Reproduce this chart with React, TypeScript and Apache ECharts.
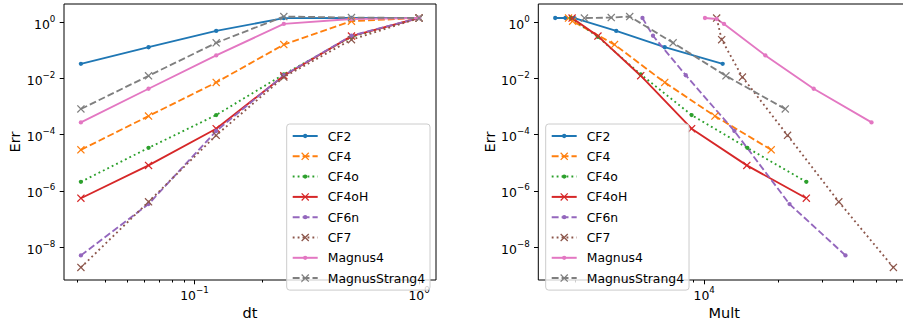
import React, { useEffect, useRef } from "react";
import * as echarts from "echarts";

// ---- data ----
const names = ["CF2", "CF4", "CF4o", "CF4oH", "CF6n", "CF7", "Magnus4", "MagnusStrang4"];
const dt = [0.03125, 0.0625, 0.125, 0.25, 0.5, 1];

const errCF2 = [0.033, 0.129, 0.49, 1.39, 1.41, 1.41];
const errCF4 = [2.9e-5, 4.6e-4, 7.2e-3, 0.16, 1.09, 1.41];
const errCF4o = [2.1e-6, 3.4e-5, 5.0e-4, 0.014, 0.3, 1.41];
const errCF4oH = [5.5e-7, 8.1e-6, 1.63e-4, 0.0125, 0.32, 1.41];
const errCF6n = [5.1e-9, 3.4e-7, 1.35e-4, 0.013, 0.33, 1.41];
const errCF7 = [1.9e-9, 4.1e-7, 9.5e-5, 0.0112, 0.24, 1.41];
const errMagnus4 = [2.74e-4, 4.3e-3, 0.066, 0.87, 1.3, 1.41];
const errMagnusStrang4 = [8.2e-4, 0.0124, 0.185, 1.59, 1.46, 1.41];

const multCF2 = [11880, 6920, 4400, 2980, 2740, 2490];
const multCF4 = [18680, 11050, 6920, 4330, 2930, 2820];
const multCF4o = [25930, 14950, 8890, 5530, 3710, 2890];
const multCF4oH = [25930, 14880, 8890, 5530, 3710, 2915];
const multCF6n = [37360, 22170, 13250, 8420, 6200, 5620];
const multCF7 = [58420, 35100, 21760, 14280, 11770, 11230];
const multMagnus4 = [47640, 27770, 17690, 12030, 11230, 10070];
const multMagnusStrang4 = [21300, 12250, 7480, 4990, 4200, 3270];

const yMajorTicks = [1e-8, 1e-6, 1e-4, 1e-2, 1];
const dtMajorTicks = [0.1, 1];
const dtMinorTicks = [0.02, 0.03, 0.04, 0.05, 0.06, 0.07, 0.08, 0.09, 0.2, 0.3, 0.4, 0.5, 0.6, 0.7, 0.8, 0.9];
const multMajorTicks = [1e4];
const multMinorTicks = [2000, 3000, 4000, 5000, 6000, 7000, 8000, 9000, 20000, 30000, 40000, 50000, 60000, 70000, 80000, 90000];

const errs = [errCF2, errCF4, errCF4o, errCF4oH, errCF6n, errCF7, errMagnus4, errMagnusStrang4];
const mults = [multCF2, multCF4, multCF4o, multCF4oH, multCF6n, multCF7, multMagnus4, multMagnusStrang4];

// ---- styles ----
const FONT = "DejaVu Sans";
const COLORS = ["#1f77b4", "#ff7f0e", "#2ca02c", "#d62728", "#9467bd", "#8c564b", "#e377c2", "#7f7f7f"];
const DASHED = [6.9, 3.0];
const DOTTED = [1.86, 3.07];
const LINE_TYPES: any[] = ["solid", DASHED, DOTTED, "solid", DASHED, DOTTED, "solid", DASHED];
const X_SYM = "path://M0,1.1L1.1,0L5,3.9L8.9,0L10,1.1L6.1,5L10,8.9L8.9,10L5,6.1L1.1,10L0,8.9L3.9,5Z";
const DOT_SYM = "path://M0,0M10,10M2.3,5A2.7,2.7,0,1,1,7.7,5A2.7,2.7,0,1,1,2.3,5Z";
const MARKERS = [DOT_SYM, X_SYM, DOT_SYM, X_SYM, DOT_SYM, X_SYM, DOT_SYM, X_SYM];

const TICK_FONT = 12.4;
const LABEL_FONT = 14.5;

const fmtPow = (v: number) => {
  const e = Math.round(Math.log10(v));
  const s = (e < 0 ? "\u2212" : "") + String(Math.abs(e));
  return "{b|10}{s|" + s + "}";
};
const powRich = {
  b: { fontFamily: FONT, fontSize: TICK_FONT, lineHeight: 16, verticalAlign: "bottom", color: "#000" },
  s: { fontFamily: FONT, fontSize: 8.7, lineHeight: 9.6, verticalAlign: "top", color: "#000" },
};

function logExtent(vals: number[]): [number, number] {
  const l = vals.map((v) => Math.log10(v));
  const lo = Math.min(...l);
  const hi = Math.max(...l);
  const m = (hi - lo) * 0.05;
  return [Math.pow(10, lo - m), Math.pow(10, hi + m)];
}

export default function App() {
  const ref = useRef<HTMLDivElement>(null);
  useEffect(() => {
    if (!ref.current) return;
    const chart = echarts.init(ref.current, undefined, { renderer: "svg" });

    const [yMin, yMax] = logExtent(errs.flat());
    const [dMin, dMax] = logExtent(dt);
    const [mMin, mMax] = logExtent(mults.flat());
    const inRange = (arr: number[], lo: number, hi: number) => arr.filter((v) => v >= lo && v <= hi);

    const majorX = (gridIndex: number, min: number, max: number, ticks: number[], name: string, nameGap: number) => ({
      type: "log",
      gridIndex,
      min,
      max,
      position: "bottom",
      axisLine: { show: false },
      splitLine: { show: false },
      minorTick: { show: false },
      axisTick: { show: true, length: 4.3, lineStyle: { color: "#000", width: 1 }, customValues: inRange(ticks, min, max) },
      axisLabel: { customValues: inRange(ticks, min, max), formatter: fmtPow, rich: powRich, fontFamily: FONT, fontSize: TICK_FONT, color: "#000", margin: 5 },
      name,
      nameLocation: "middle",
      nameGap,
      nameTextStyle: { fontFamily: FONT, fontSize: LABEL_FONT, color: "#000" },
    });
    const minorX = (gridIndex: number, min: number, max: number, ticks: number[]) => ({
      type: "log",
      gridIndex,
      min,
      max,
      position: "bottom",
      axisLine: { show: false },
      splitLine: { show: false },
      minorTick: { show: false },
      axisTick: { show: true, length: 2.5, lineStyle: { color: "#000", width: 1 }, customValues: inRange(ticks, min, max) },
      axisLabel: { show: false },
    });
    const yAx = (gridIndex: number) => ({
      type: "log",
      gridIndex,
      min: yMin,
      max: yMax,
      axisLine: { show: false },
      splitLine: { show: false },
      minorTick: { show: false },
      axisTick: { show: true, length: 4.3, lineStyle: { color: "#000", width: 1 }, customValues: yMajorTicks },
      axisLabel: { customValues: yMajorTicks, formatter: fmtPow, rich: powRich, fontFamily: FONT, fontSize: TICK_FONT, color: "#000", margin: 8.6 },
      name: "Err",
      nameLocation: "middle",
      nameGap: 40,
      nameRotate: 90,
      nameTextStyle: { fontFamily: FONT, fontSize: LABEL_FONT, color: "#000" },
    });

    const legend = (left: number) => ({
      orient: "vertical",
      left,
      top: 124,
      itemWidth: 25,
      itemHeight: 10,
      itemGap: 8.3,
      padding: [6, 5, 6, 5],
      backgroundColor: "rgba(255,255,255,0.8)",
      borderColor: "#cccccc",
      borderWidth: 1,
      borderRadius: 3,
      selectedMode: false,
      textStyle: { fontFamily: FONT, fontSize: TICK_FONT, color: "#000", padding: [0, 0, 0, 5] },
      data: names,
    });

    const series: any[] = [];
    const makeSeries = (i: number, xAxisIndex: number, yAxisIndex: number, xs: number[]) => ({
      type: "line",
      name: names[i],
      symbol: MARKERS[i],
      symbolSize: 8,
      showSymbol: true,
      silent: true,
      lineStyle: { color: COLORS[i], width: 1.85, type: LINE_TYPES[i] },
      itemStyle: { color: COLORS[i] },
      xAxisIndex,
      yAxisIndex,
      data: xs.map((x, k) => [x, errs[i][k]]),
    });
    names.forEach((_, i) => series.push(makeSeries(i, 0, 0, dt)));
    names.forEach((_, i) => series.push(makeSeries(i, 2, 1, mults[i])));

    const gridBase = { top: 4, width: 372, height: 276, show: true, borderColor: "#000", borderWidth: 1, backgroundColor: "transparent", containLabel: false, outerBoundsMode: "none" };

    chart.setOption({
      animation: false,
      backgroundColor: "#fff",
      textStyle: { fontFamily: FONT },
      grid: [
        { ...gridBase, left: 64 },
        { ...gridBase, left: 538.3 },
      ],
      xAxis: [
        majorX(0, dMin, dMax, dtMajorTicks, "dt", 22),
        minorX(0, dMin, dMax, dtMinorTicks),
        majorX(1, mMin, mMax, multMajorTicks, "Mult", 22),
        minorX(1, mMin, mMax, multMinorTicks),
      ],
      yAxis: [yAx(0), yAx(1)],
      legend: [legend(286.7), legend(545.7)],
      series,
    });
    return () => chart.dispose();
  }, []);
  return (
    <div
      ref={ref}
      style={{ position: "fixed", left: 0, top: 0, width: 903, height: 324, background: "#fff", overflow: "hidden" }}
    />
  );
}
